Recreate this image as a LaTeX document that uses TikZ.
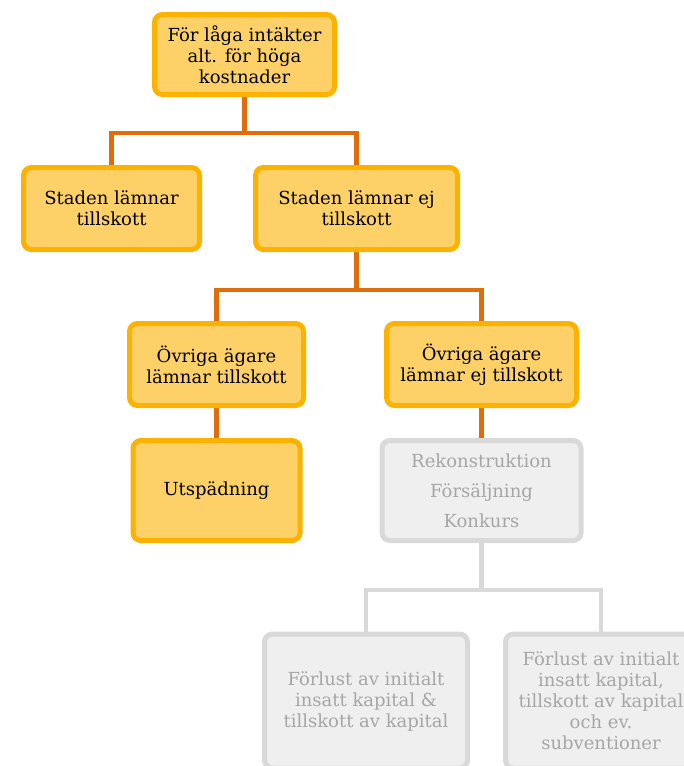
\documentclass[tikz,border=0pt]{standalone}
\usepackage{fontspec}
\setmainfont{DejaVu Serif}
\usetikzlibrary{backgrounds}
\definecolor{ofill}{RGB}{253,208,104}
\definecolor{oborder}{RGB}{252,178,0}
\definecolor{oline}{RGB}{224,108,10}
\definecolor{gfill}{RGB}{239,239,239}
\definecolor{gborder}{RGB}{217,217,217}
\definecolor{gtext}{RGB}{166,166,166}
\tikzset{
  obox/.style={draw=oborder, fill=ofill, line width=5pt, rounded corners=8pt, align=center, inner sep=0pt, text=black, font=\fontsize{18}{21}\selectfont},
  gbox/.style={draw=gborder, fill=gfill, line width=5pt, rounded corners=8pt, align=center, inner sep=0pt, text=gtext, font=\fontsize{18}{21}\selectfont},
  oconn/.style={draw=oline, line width=4.5pt},
  gconn/.style={draw=gborder, line width=4.5pt},
}
\begin{document}
\begin{tikzpicture}[x=1pt, y=-1pt]
\useasboundingbox (0,0) rectangle (684,766);
\node[obox, minimum width=180pt, minimum height=80pt] (n1) at (244.5,54.5) {För låga intäkter\\alt. för höga\\kostnader};
\node[obox, minimum width=176pt, minimum height=82pt] (n2) at (111.5,208.5) {Staden lämnar\\tillskott};
\node[obox, minimum width=202pt, minimum height=82pt] (n3) at (356.5,208.5) {Staden lämnar ej\\tillskott};
\node[obox, minimum width=174pt, minimum height=82pt] (n4) at (216.5,364.5) {Övriga ägare\\lämnar tillskott};
\node[obox, minimum width=190pt, minimum height=82pt] (n5) at (481.5,364.5) {Övriga ägare\\lämnar ej tillskott};
\node[obox, minimum width=167pt, minimum height=100pt] (n6) at (216.5,490.5) {Utspädning};
\node[gbox, minimum width=199pt, minimum height=100pt, font=\fontsize{18}{30}\selectfont] (n7) at (481.5,490.5) {Rekonstruktion\\Försäljning\\Konkurs};
\node[gbox, minimum width=203pt, minimum height=134pt] (n8) at (366,701) {Förlust av initialt\\insatt kapital \&\\tillskott av kapital};
\node[gbox, minimum width=191pt, minimum height=134pt] (n9) at (601,701) {Förlust av initialt\\insatt kapital,\\tillskott av kapital\\och ev.\\subventioner};
\begin{scope}[on background layer]
\draw[oconn] (n1.south) -- ([yshift=-36pt]n1.south) -| (n2.north);
\draw[oconn] ([yshift=-36pt]n1.south) -| (n3.north);
\draw[oconn] (n3.south) -- ([yshift=-38pt]n3.south) -| (n4.north);
\draw[oconn] ([yshift=-38pt]n3.south) -| (n5.north);
\draw[oconn] (n4.south) -- (n6.north);
\draw[oconn] (n5.south) -- (n7.north);
\draw[gconn] (n7.south) -- ([yshift=-47pt]n7.south) -| (n8.north);
\draw[gconn] ([yshift=-47pt]n7.south) -| (n9.north);
\end{scope}
\end{tikzpicture}
\end{document}
